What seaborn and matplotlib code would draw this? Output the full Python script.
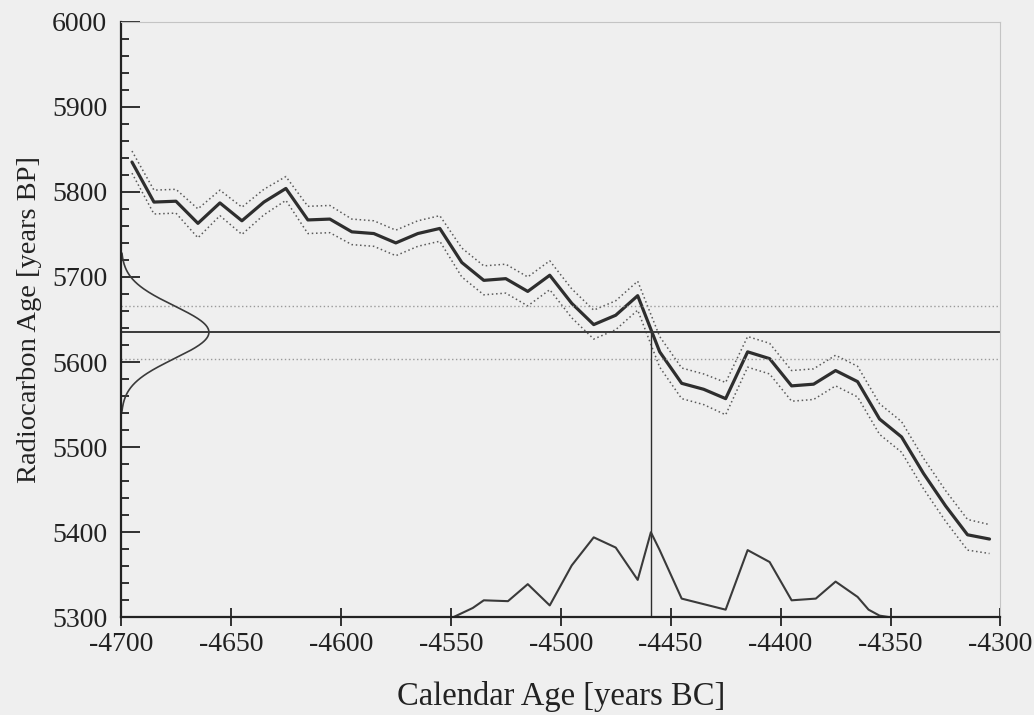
import numpy as np
import pandas as pd
import matplotlib
matplotlib.use("Agg")
import matplotlib.pyplot as plt
from matplotlib.ticker import MultipleLocator
import seaborn as sns

# ---------------- data ----------------
# calibration curve: calendar year (BC, negative) and radiocarbon age
cal_years = [-4695, -4685, -4675, -4665, -4655, -4645, -4635, -4625, -4615, -4605,
             -4595, -4585, -4575, -4565, -4555, -4545, -4535, -4525, -4515, -4505,
             -4495, -4485, -4475, -4465, -4455, -4445, -4435, -4425, -4415, -4405,
             -4395, -4385, -4375, -4365, -4355, -4345, -4335, -4325, -4315, -4305]
cal_age = [5835, 5788, 5789, 5763, 5787, 5766, 5788, 5804, 5767, 5768,
           5753, 5751, 5740, 5751, 5757, 5717, 5696, 5698, 5683, 5702,
           5669, 5644, 5655, 5678, 5612, 5575, 5568, 5557, 5612, 5604,
           5572, 5574, 5590, 5577, 5533, 5512, 5469, 5431, 5397, 5392]
cal_sigma = [13, 14, 14, 17, 15, 16, 15, 14, 16, 16,
             15, 15, 15, 15, 15, 17, 17, 17, 17, 17,
             17, 17, 17, 17, 18, 18, 18, 19, 18, 18,
             18, 18, 18, 18, 18, 18, 18, 18, 18, 17]

# measured radiocarbon date
c14_age = 5635
c14_error = 31
intercept_year = -4459

# calibrated probability distribution (height above the 5300 baseline)
prob_years = [-4549, -4540, -4535, -4524, -4515, -4505, -4495, -4485, -4475, -4465,
              -4459, -4455, -4445, -4425, -4415, -4405, -4395, -4384, -4375, -4365,
              -4360, -4355, -4350]
prob_height = [0, 11, 20, 19, 39, 14, 61, 94, 82, 44,
               100, 79, 22, 9, 79, 65, 20, 22, 42, 24,
               9, 2, 0]

x_ticks = [-4700, -4650, -4600, -4550, -4500, -4450, -4400, -4350, -4300]
y_ticks = [5300, 5400, 5500, 5600, 5700, 5800, 5900, 6000]

# ---------------- figure ----------------
sns.set_theme(style="ticks")
plt.rcParams["font.family"] = ["Liberation Serif", "DejaVu Serif"]

bg = "#efefef"
fig = plt.figure(figsize=(10.34, 7.15), dpi=100, facecolor=bg)
ax = fig.add_axes([0.117, 0.1366, 0.8506, 0.8331])
ax.set_facecolor(bg)

cal = pd.DataFrame({"year": cal_years, "age": cal_age, "sigma": cal_sigma})
cal["upper"] = cal["age"] + cal["sigma"]
cal["lower"] = cal["age"] - cal["sigma"]

dot = (0, (1, 1.8))
sns.lineplot(data=cal, x="year", y="upper", ax=ax, color="#5a5a5a", lw=1.1,
             linestyle=dot, estimator=None, sort=False)
sns.lineplot(data=cal, x="year", y="lower", ax=ax, color="#5a5a5a", lw=1.1,
             linestyle=dot, estimator=None, sort=False)
sns.lineplot(data=cal, x="year", y="age", ax=ax, color="#2e2e2e", lw=2.3,
             estimator=None, sort=False)

# measured date lines
ax.axhline(c14_age, color="#3a3a3a", lw=1.4)
ax.axhline(c14_age + c14_error, color="#9a9a9a", lw=1.0, linestyle=dot)
ax.axhline(c14_age - c14_error, color="#9a9a9a", lw=1.0, linestyle=dot)

# gaussian of the measured date on the y axis
g_age = np.linspace(c14_age - 3 * c14_error, c14_age + 3 * c14_error, 200)
g_dens = np.exp(-0.5 * ((g_age - c14_age) / c14_error) ** 2)
gauss = pd.DataFrame({"x": -4700 + 40 * g_dens, "y": g_age})
sns.lineplot(data=gauss, x="x", y="y", ax=ax, color="#3a3a3a", lw=1.2,
             estimator=None, sort=False)

# intercept line
vline = pd.DataFrame({"x": [intercept_year, intercept_year], "y": [5300, c14_age]})
sns.lineplot(data=vline, x="x", y="y", ax=ax, color="#2e2e2e", lw=1.0,
             estimator=None, sort=False)

# probability distribution
prob = pd.DataFrame({"x": prob_years, "y": 5300 + np.array(prob_height)})
sns.lineplot(data=prob, x="x", y="y", ax=ax, color="#3a3a3a", lw=1.5,
             estimator=None, sort=False)

ax.set_xlim(-4700, -4300)
ax.set_ylim(5300, 6000)
ax.set_xticks(x_ticks)
ax.set_xticklabels([str(t) for t in x_ticks])
ax.set_yticks(y_ticks)
ax.set_yticklabels([str(t) for t in y_ticks])
ax.yaxis.set_minor_locator(MultipleLocator(20))

for side in ["left", "bottom"]:
    ax.spines[side].set_color("#222222")
    ax.spines[side].set_linewidth(1.6)
for side in ["top", "right"]:
    ax.spines[side].set_color("#c4c4c4")
    ax.spines[side].set_linewidth(0.8)

ax.tick_params(axis="x", which="major", direction="inout", length=13, width=1.3,
               color="#222222", labelsize=20, pad=4, labelcolor="#222222")
ax.tick_params(axis="y", which="major", direction="in", length=14, width=1.3,
               color="#222222", labelsize=20, pad=10, labelcolor="#222222")
ax.tick_params(axis="y", which="minor", direction="in", length=6, width=1.3,
               color="#222222")

ax.set_xlabel("Calendar Age [years BC]", fontsize=23.5, color="#222222", labelpad=17)
ax.set_ylabel("Radiocarbon Age [years BP]", fontsize=20.5, color="#222222", labelpad=7)

fig.savefig("out.png", dpi=100, facecolor=bg)
